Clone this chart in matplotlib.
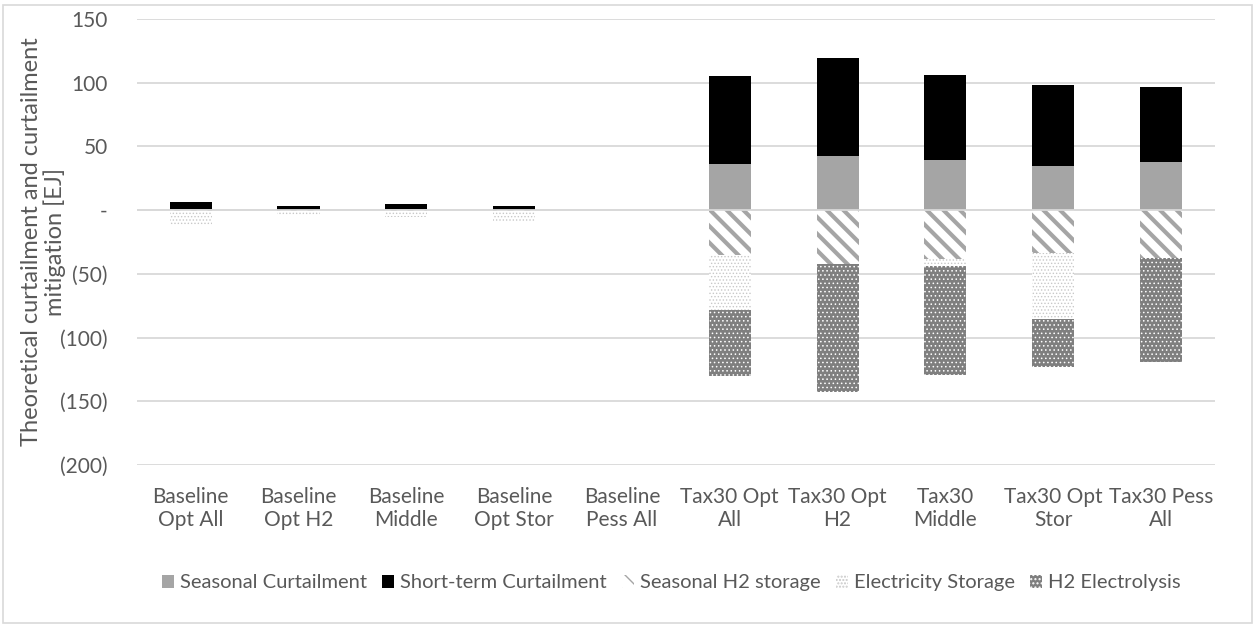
import numpy as np
import matplotlib.pyplot as plt
from matplotlib.ticker import FuncFormatter

plt.rcParams['font.family'] = ['Lato', 'DejaVu Sans']

scenarios = ['Baseline\nOpt All', 'Baseline\nOpt H2', 'Baseline\nMiddle', 'Baseline\nOpt Stor',
             'Baseline\nPess All', 'Tax30 Opt\nAll', 'Tax30 Opt\nH2', 'Tax30\nMiddle',
             'Tax30 Opt\nStor', 'Tax30 Pess\nAll']

# positive: curtailment
seasonal_curt = [0.8, 0.4, 0.5, 0.3, 0.0, 36.5, 42.5, 39.3, 34.3, 37.4]
short_term_curt = [5.8, 3.2, 4.6, 2.7, 0.0, 68.5, 77.0, 66.7, 63.7, 59.6]
# negative: mitigation
seasonal_h2 = [-1.0, -0.3, -0.4, -0.3, 0.0, -35.6, -42.0, -38.0, -33.5, -37.4]
elec_storage = [-11.0, -3.8, -5.0, -8.7, 0.0, -43.1, 0.0, -6.0, -51.8, 0.0]
h2_electrolysis = [0.0, 0.0, 0.0, 0.0, 0.0, -51.3, -100.8, -85.7, -37.7, -82.1]

text_col = '#595959'
grid_col = '#D9D9D9'

fig = plt.figure(figsize=(12.55, 6.24), dpi=100)
ax = fig.add_axes([0.109, 0.2548, 0.859, 0.7148])

x = np.arange(len(scenarios))
w = 0.39

ax.bar(x, seasonal_curt, w, color='#A5A5A5', label='Seasonal Curtailment', zorder=3)
ax.bar(x, short_term_curt, w, bottom=seasonal_curt, color='black',
       label='Short-term Curtailment', zorder=3)

neg1 = np.array(seasonal_h2)
neg2 = neg1 + np.array(elec_storage)
with plt.rc_context({'hatch.linewidth': 3.0}):
    ax.bar(x, seasonal_h2, w, color='white', edgecolor='#A5A5A5', linewidth=0,
           hatch='\\\\', label='Seasonal H2 storage', zorder=3)
with plt.rc_context({'hatch.linewidth': 0.6}):
    ax.bar(x, elec_storage, w, bottom=neg1, color='white', edgecolor='#C8C8C8', linewidth=0,
           hatch='.....', label='Electricity Storage', zorder=3)
    ax.bar(x, h2_electrolysis, w, bottom=neg2, color='#7F7F7F', edgecolor='white', linewidth=0,
           hatch='....', label='H2 Electrolysis', zorder=3)

ax.set_ylim(-200, 150)
ax.set_yticks(np.arange(-200, 151, 50))
ax.set_xlim(-0.5, len(scenarios) - 0.5)


def fmt(v, pos):
    if v == 0:
        return '-'
    if v < 0:
        return '(%d)' % abs(v)
    return '%d' % v


ax.yaxis.set_major_formatter(FuncFormatter(fmt))
ax.set_xticks(x)
ax.set_xticklabels(scenarios, fontsize=15, color=text_col, linespacing=1.15)
ax.tick_params(axis='y', labelsize=15, labelcolor=text_col, length=0, pad=21)
ax.tick_params(axis='x', length=0, pad=16)
ax.grid(axis='y', color=grid_col, linewidth=1.3, zorder=0)
for s in ax.spines.values():
    s.set_visible(False)
ax.axhline(0, color=grid_col, linewidth=1.3, zorder=4)

ax.set_ylabel('Theoretical curtailment and curtailment\nmitigation [EJ]', fontsize=17,
              color=text_col, linespacing=1.05)
ax.yaxis.set_label_coords(-0.066, 0.5)

handles, labels = ax.get_legend_handles_labels()
fig.legend(handles, labels, loc='center', bbox_to_anchor=(0.535, 0.066), ncol=5,
           frameon=False, fontsize=14.5, labelcolor=text_col, handlelength=0.6,
           handleheight=0.6, handletextpad=0.3, columnspacing=0.75)

fig.patches.append(plt.Rectangle((0.002, 0.002), 0.996, 0.99, transform=fig.transFigure,
                                 fill=False, edgecolor='#D9D9D9', linewidth=1.2))

fig.savefig('out.png', dpi=100)
